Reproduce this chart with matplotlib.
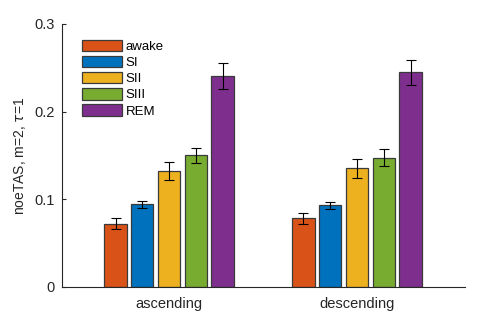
import matplotlib.pyplot as plt
import numpy as np

plt.rcParams['font.family'] = ['Liberation Sans', 'DejaVu Sans']

groups = ['ascending', 'descending']
stages = ['awake', 'SI', 'SII', 'SIII', 'REM']
colors = ['#D95319', '#0072BD', '#EDB120', '#77AC30', '#7E2F8E']

# rows = stages, columns = groups
means = [
    [0.0724, 0.0784],
    [0.0943, 0.0932],
    [0.1326, 0.1352],
    [0.1500, 0.1477],
    [0.2405, 0.2447],
]
errs = [
    [0.0066, 0.0063],
    [0.0042, 0.0040],
    [0.0100, 0.0104],
    [0.0088, 0.0095],
    [0.0150, 0.0144],
]

fig = plt.figure(figsize=(4.91, 3.22), dpi=100)
ax = fig.add_axes([0.1263, 0.1087, 0.8207, 0.8168])

index = np.arange(1, len(groups) + 1)
step = 0.1426
bar_width = 0.119

for i, st in enumerate(stages):
    pos = index + (i - 2) * step
    ax.bar(pos, means[i], bar_width, color=colors[i], edgecolor='#3a3a3a',
           linewidth=0.9, label=st, zorder=2)
    ax.errorbar(pos, means[i], yerr=errs[i], fmt='none', ecolor='black',
                elinewidth=0.8, capsize=3.5, capthick=0.8, zorder=3)

ax.set_xlim(0.43, 2.575)
ax.set_ylim(0, 0.3)
ax.set_yticks([0, 0.1, 0.2, 0.3])
ax.set_yticklabels(['0', '0.1', '0.2', '0.3'])
ax.set_xticks(index)
ax.set_xticklabels(groups)
ax.set_ylabel(r'noeTAS, m=2, $\tau$=1', fontsize=10, color='#262626', labelpad=5)

for side in ['top', 'right']:
    ax.spines[side].set_visible(False)
for side in ['left', 'bottom']:
    ax.spines[side].set_color('#262626')
    ax.spines[side].set_linewidth(0.8)
ax.tick_params(axis='y', direction='in', length=3, width=0.8, colors='#262626',
               labelsize=10.5, pad=5)
ax.tick_params(axis='x', length=0, colors='#262626', labelsize=10.5, pad=7)

ax.legend(loc='upper left', bbox_to_anchor=(0.05, 0.94), borderaxespad=0,
          borderpad=0, frameon=False, fontsize=9.5, handlelength=3.0,
          handleheight=0.95, labelspacing=0.22, handletextpad=0.3)

fig.savefig('out.png', dpi=100)
